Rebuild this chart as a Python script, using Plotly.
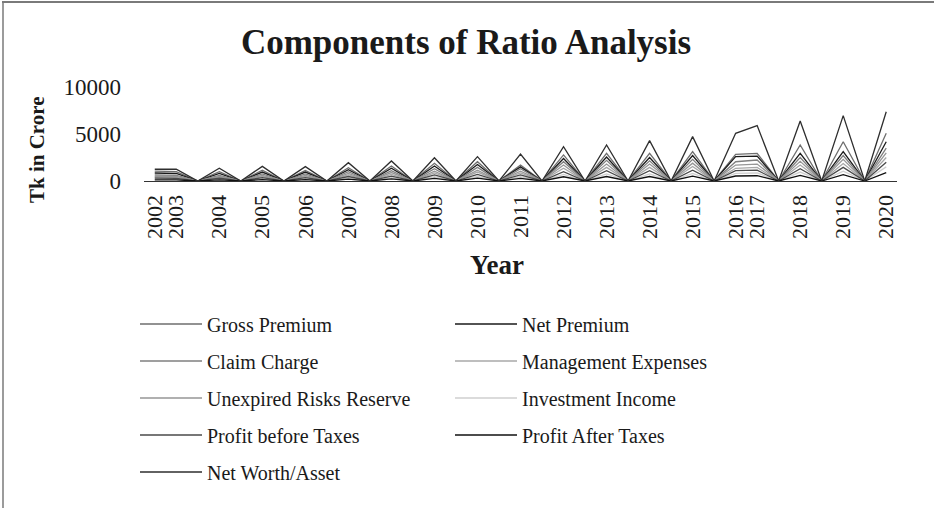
import plotly.graph_objects as go

# Category slots on the x axis ("" = empty spacer row, plotted as 0)
categories = ["2002", "2003", "", "2004", "", "2005", "", "2006", "", "2007", "",
              "2008", "", "2009", "", "2010", "", "2011", "", "2012", "", "2013", "",
              "2014", "", "2015", "", "2016", "2017", "", "2018", "", "2019", "", "2020"]

series_names = ["Gross Premium", "Net Premium", "Claim Charge", "Management Expenses",
                "Unexpired Risks Reserve", "Investment Income", "Profit before Taxes",
                "Profit After Taxes", "Net Worth/Asset"]

y_tick_values = [0, 5000, 10000]
y_tick_labels = ["0", "5000", "10000"]

# values per year 2002..2020 (Tk in Crore)
gross_premium = [1060, 1000, 1000, 1150, 1130, 1420, 1600, 1880, 2050, 1700, 2770, 2940, 2940, 3120, 2840, 2940, 3830, 4180, 5070]
net_premium = [850, 800, 800, 950, 950, 1200, 1350, 1600, 1750, 1500, 2400, 2550, 2500, 2700, 2590, 2650, 2940, 3120, 4180]
claim_charge = [640, 600, 600, 750, 750, 1000, 1100, 1300, 1450, 1300, 2050, 2200, 2150, 2300, 2050, 2230, 2500, 2700, 3500]
management_expenses = [400, 380, 400, 480, 480, 650, 700, 850, 950, 850, 1350, 1450, 1450, 1550, 1350, 1450, 1700, 1850, 2500]
unexpired_risks_reserve = [500, 480, 480, 600, 600, 800, 900, 1050, 1150, 1050, 1700, 1800, 1800, 1900, 1700, 1800, 2100, 2300, 3000]
investment_income = [200, 190, 200, 240, 240, 330, 360, 450, 480, 450, 700, 750, 750, 800, 820, 850, 950, 1050, 1500]
profit_before_taxes = [300, 280, 300, 350, 350, 480, 520, 650, 700, 650, 1000, 1100, 1100, 1150, 1100, 1150, 1300, 1450, 2000]
profit_after_taxes = [120, 110, 130, 150, 150, 200, 220, 280, 300, 280, 450, 480, 480, 520, 530, 560, 600, 680, 900]
net_worth_asset = [1250, 1250, 1350, 1560, 1530, 1950, 2130, 2480, 2590, 2870, 3650, 3830, 4290, 4720, 5070, 5890, 6380, 6950, 7370]

series_values = [gross_premium, net_premium, claim_charge, management_expenses,
                 unexpired_risks_reserve, investment_income, profit_before_taxes,
                 profit_after_taxes, net_worth_asset]
series_colors = ["#6e6e6e", "#1a1a1a", "#7f7f7f", "#a8a8a8", "#969696", "#cfcfcf",
                 "#4a4a4a", "#111111", "#2e2e2e"]

x_idx = list(range(len(categories)))
year_slots = [i for i, c in enumerate(categories) if c != ""]


def expand(vals):
    out = [0] * len(categories)
    for slot, v in zip(year_slots, vals):
        out[slot] = v
    return out


FONT = "Liberation Serif"
fig = go.Figure()
legend_ids = ["legend", "legend", "legend2", "legend2", "legend3", "legend3",
              "legend4", "legend4", "legend5"]
for name, vals, col, lg in zip(series_names, series_values, series_colors, legend_ids):
    fig.add_trace(go.Scatter(x=x_idx, y=expand(vals), mode="lines", name=name,
                             line=dict(color=col, width=1.3), legend=lg))

W, H = 934, 508
L, R, T, B = 144, 37, 87, 327
pw, ph = W - L - R, H - T - B


def px_x(p):
    return (p - L) / pw


def px_y(p):
    return (H - B - p) / ph


row_y = [324, 361, 398, 435, 472]
legend_common = dict(orientation="h", xanchor="left", yanchor="middle",
                     xref="container", yref="container",
                     font=dict(family=FONT, size=20, color="#1a1a1a"),
                     entrywidth=238, entrywidthmode="pixels", itemwidth=62,
                     bgcolor="rgba(0,0,0,0)", tracegroupgap=0, traceorder="normal")
layout_legends = {}
for i, ry in enumerate(row_y):
    key = "legend" if i == 0 else f"legend{i + 1}"
    layout_legends[key] = dict(x=135 / W, y=1 - ry / H, **legend_common)

fig.update_layout(
    width=W, height=H,
    margin=dict(l=L, r=R, t=T, b=B, autoexpand=False),
    paper_bgcolor="white", plot_bgcolor="white",
    showlegend=True,
    title=dict(text="<b>Components of Ratio Analysis</b>", x=466 / W, xanchor="center",
               y=1 - 42 / H, yanchor="middle",
               font=dict(family=FONT, size=35, color="#1a1a1a")),
    xaxis=dict(range=[-0.5, len(categories) - 0.5], tickmode="array",
               tickvals=year_slots, ticktext=[categories[i] for i in year_slots],
               tickangle=-90, tickfont=dict(family=FONT, size=22, color="#1a1a1a"),
               showgrid=False, zeroline=False, showline=True, linecolor="#333333",
               linewidth=1.2, ticks="", ticklabelstandoff=4, automargin=False),
    yaxis=dict(range=[0, 10000], tickmode="array", tickvals=y_tick_values,
               ticktext=y_tick_labels,
               tickfont=dict(family=FONT, size=23, color="#1a1a1a"),
               showgrid=False, zeroline=False, showline=False, ticks="",
               ticklabelstandoff=22, automargin=False),
    annotations=[
        dict(text="<b>Year</b>", x=px_x(497), y=px_y(265), xref="paper", yref="paper",
             showarrow=False, xanchor="center", yanchor="middle",
             font=dict(family=FONT, size=27, color="#1a1a1a")),
        dict(text="<b>Tk in Crore</b>", x=px_x(37), y=px_y(149), xref="paper", yref="paper",
             showarrow=False, xanchor="center", yanchor="middle", textangle=-90,
             font=dict(family=FONT, size=21, color="#1a1a1a")),
    ],
    shapes=[
        dict(type="line", xref="paper", yref="paper", x0=px_x(2), x1=px_x(W), y0=px_y(2), y1=px_y(2),
             line=dict(color="#7a7a7a", width=2)),
        dict(type="line", xref="paper", yref="paper", x0=px_x(3), x1=px_x(3), y0=px_y(2), y1=px_y(H),
             line=dict(color="#7a7a7a", width=1.5)),
    ],
    **layout_legends,
)

fig.write_html("out.html", config={"displayModeBar": False},
               post_script="document.body.style.margin='0';")
